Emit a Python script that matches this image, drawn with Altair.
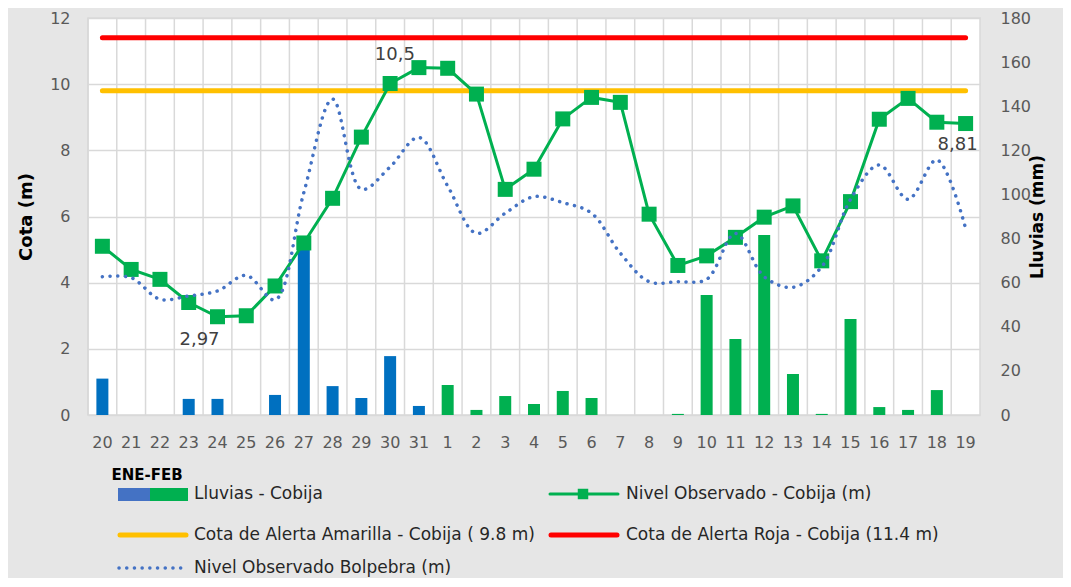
import altair as alt
import pandas as pd

# ---------------- data ----------------
dias = ["20", "21", "22", "23", "24", "25", "26", "27", "28", "29", "30", "31",
        "1", "2", "3", "4", "5", "6", "7", "8", "9", "10", "11", "12", "13",
        "14", "15", "16", "17", "18", "19"]
mes = ["ENE"] * 12 + ["FEB"] * 19
nivel_cobija = [5.10, 4.40, 4.10, 3.40, 2.97, 3.00, 3.90, 5.20, 6.55, 8.40, 10.02, 10.50,
                10.48, 9.70, 6.82, 7.43, 8.95, 9.60, 9.45, 6.07, 4.52, 4.81, 5.37, 5.98,
                6.32, 4.66, 6.45, 8.94, 9.57, 8.85, 8.81]
nivel_bolpebra = [4.18, 4.15, 3.50, 3.60, 3.75, 4.22, 3.48, 6.72, 9.55, 6.82, 7.50, 8.39,
                  6.92, 5.49, 6.10, 6.60, 6.42, 6.10, 4.89, 4.03, 4.03, 4.10, 5.49, 4.18,
                  3.86, 4.48, 6.52, 7.56, 6.52, 7.71, 5.64]
lluvias = [16.5, 0, 0, 7.3, 7.3, 0, 9.1, 78, 13.1, 7.7, 26.7, 4.1,
           13.6, 2.3, 8.6, 5.0, 10.9, 7.7, 0, 0, 0.5, 54.4, 34.5, 81.6,
           18.6, 0.5, 43.5, 3.6, 2.3, 11.3, 0]
alerta_amarilla = 9.8
alerta_roja = 11.4
etiquetas = {"24": "2,97", "31": "10,5", "19": "8,81"}

df = pd.DataFrame({
    "dia": dias,
    "mes": mes,
    "cobija": nivel_cobija,
    "bolpebra": nivel_bolpebra,
    "lluvia": lluvias,
    "amarilla": [alerta_amarilla] * len(dias),
    "roja": [alerta_roja] * len(dias),
    "etiqueta": [etiquetas.get(d, "") for d in dias],
})

FONT = "DejaVu Sans"
W, H = 892, 397
GRID = "#D9D9D9"
TXT = "#595959"

x_enc = alt.X("dia:N", sort=dias,
              scale=alt.Scale(paddingInner=0, paddingOuter=0),
              axis=alt.Axis(title="ENE-FEB", labelAngle=0, labelAlign="center",
                            grid=False, ticks=False,
                            domain=False, labelFont=FONT, labelFontSize=16,
                            labelColor=TXT, labelPadding=27,
                            titleX=23, titleY=52, titleAnchor="start", titleAlign="left",
                            titleBaseline="top", titleFont=FONT, titleFontSize=15,
                            titleFontWeight="bold", titleColor="#000000"))

yl_scale = alt.Scale(domain=[0, 12])
yl_axis = alt.Axis(title="Cota (m)", values=[0, 2, 4, 6, 8, 10, 12], grid=True,
                   gridColor=GRID, gridWidth=1.5, ticks=False, domain=False,
                   labelFont=FONT, labelFontSize=16, labelColor=TXT, labelPadding=18,
                   titleFont=FONT, titleFontSize=18, titleFontWeight="bold",
                   titleColor="#000000", titlePadding=14)

base = alt.Chart(df)

vgrid = base.mark_rule(color=GRID, strokeWidth=1.5, xOffset=-W / len(dias) / 2).encode(
    x=alt.X("dia:N", sort=dias)
)

bars = base.mark_bar(size=12).encode(
    x=x_enc,
    y=alt.Y("lluvia:Q", scale=alt.Scale(domain=[0, 180]),
            axis=alt.Axis(title="Lluvias (mm)", orient="right",
                          values=list(range(0, 181, 20)), grid=False, ticks=False,
                          domain=False, labelFont=FONT, labelFontSize=16,
                          labelColor=TXT, labelPadding=20, titleFont=FONT,
                          titleFontSize=17, titleFontWeight="bold", titleAngle=270,
                          titleColor="#000000", titlePadding=16)),
    color=alt.Color("mes:N", scale=alt.Scale(domain=["ENE", "FEB"],
                                             range=["#0070C0", "#00B050"]),
                    legend=None),
)

roja = base.mark_line(color="#FF0000", strokeWidth=5, strokeCap="round").encode(
    x=alt.X("dia:N", sort=dias),
    y=alt.Y("roja:Q", scale=yl_scale, axis=yl_axis),
)
amarilla = base.mark_line(color="#FFC000", strokeWidth=5, strokeCap="round").encode(
    x=alt.X("dia:N", sort=dias),
    y=alt.Y("amarilla:Q", scale=yl_scale, axis=yl_axis),
)
cobija_line = base.mark_line(color="#00B050", strokeWidth=3).encode(
    x=alt.X("dia:N", sort=dias),
    y=alt.Y("cobija:Q", scale=yl_scale, axis=yl_axis),
)
cobija_pts = base.mark_square(color="#00B050", size=225, opacity=1).encode(
    x=alt.X("dia:N", sort=dias),
    y=alt.Y("cobija:Q", scale=yl_scale, axis=yl_axis),
)
bolpebra = base.mark_line(color="#4472C4", strokeWidth=3.5, strokeCap="round",
                          strokeDash=[0.1, 7.6], interpolate="catmull-rom").encode(
    x=alt.X("dia:N", sort=dias),
    y=alt.Y("bolpebra:Q", scale=yl_scale, axis=yl_axis),
)

def label(day, dx, dy):
    return base.transform_filter(alt.datum.dia == day).mark_text(
        font=FONT, fontSize=18, color="#404040", dx=dx, dy=dy
    ).encode(
        x=alt.X("dia:N", sort=dias),
        y=alt.Y("cobija:Q", scale=yl_scale, axis=yl_axis),
        text="etiqueta:N",
    )

labels = [label("24", -18, 23), label("31", -24, -13), label("19", -8, 21)]

left = alt.layer(roja, amarilla, cobija_line, cobija_pts, bolpebra, *labels)

# ---------------- custom legend ----------------
one = alt.Chart(pd.DataFrame({"k": [0]}))

def ltext(s, x, y):
    return one.mark_text(align="left", baseline="middle", font=FONT, fontSize=17,
                         color="#262626").encode(
        x=alt.value(x), y=alt.value(y), text=alt.value(s))

def lline(x1, x2, y, color, width=5, dash=None):
    kw = dict(color=color, strokeWidth=width, strokeCap="round")
    if dash:
        kw["strokeDash"] = dash
    return one.mark_rule(**kw).encode(x=alt.value(x1), x2=alt.value(x2), y=alt.value(y))

R1, R2, R3 = 476, 517, 550
legend = [
    one.mark_rect(color="#4472C4").encode(x=alt.value(30), x2=alt.value(62),
                                         y=alt.value(470), y2=alt.value(483)),
    one.mark_rect(color="#00B050").encode(x=alt.value(62), x2=alt.value(100),
                                         y=alt.value(470), y2=alt.value(483)),
    ltext("Lluvias - Cobija", 106, R1),
    lline(462, 530, R1, "#00B050", 3),
    one.mark_square(color="#00B050", size=110, opacity=1).encode(
        x=alt.value(495), y=alt.value(R1)),
    ltext("Nivel Observado - Cobija (m)", 538, R1),
    lline(32, 98, R2, "#FFC000", 5),
    ltext("Cota  de Alerta Amarilla - Cobija ( 9.8 m)", 106, R2),
    lline(463, 529, R2, "#FF0000", 5),
    ltext("Cota de Alerta Roja - Cobija (11.4 m)", 538, R2),
    lline(31, 98, R3, "#4472C4", 3.5, [0.1, 7.6]),
    ltext("Nivel Observado Bolpebra (m)", 106, R3),
]

chart = alt.layer(vgrid, bars, left, *legend).resolve_scale(
    y="independent"
).properties(
    width=W, height=H,
    padding={"left": 80, "top": 10, "right": 83, "bottom": 163},
    autosize=alt.AutoSizeParams(type="none"),
).configure(
    background="#E6E6E6",
).configure_view(
    fill="#FFFFFF", stroke=GRID, strokeWidth=1.5,
)

chart.save("out.html", embed_options={"renderer": "svg", "actions": False})
